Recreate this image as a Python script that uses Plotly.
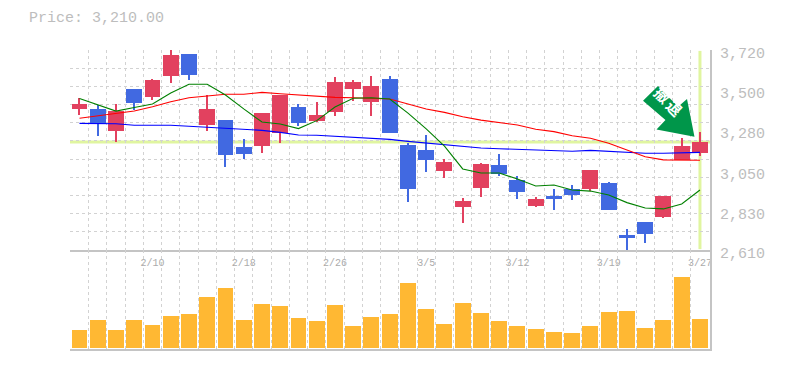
import plotly.graph_objects as go
from plotly.subplots import make_subplots

days = list(range(35))
tick_days = [4, 9, 14, 19, 24, 29, 34]
tick_labels = ["2/10", "2/18", "2/26", "3/5", "3/12", "3/19", "3/27"]
price_ticks = [3720, 3500, 3280, 3050, 2830, 2610]
price_labels = ["3,720", "3,500", "3,280", "3,050", "2,830", "2,610"]

opens = [3393, 3393, 3270, 3504, 3459, 3576, 3698, 3304, 3331, 3182, 3187, 3259,
         3404, 3326, 3376, 3504, 3431, 3559, 3193, 3165, 3048, 2849, 2954, 3082,
         2998, 2854, 2910, 2949, 2949, 2982, 2693, 2765, 2793, 3109, 3148]
closes = [3420, 3311, 3381, 3426, 3553, 3692, 3581, 3393, 3137, 3143, 3370, 3470,
          3315, 3359, 3542, 3542, 3520, 3259, 2949, 3109, 3098, 2882, 3087, 3032,
          2932, 2893, 2893, 2915, 3054, 2832, 2682, 2699, 2910, 3187, 3210]
highs = [3452, 3413, 3420, 3504, 3559, 3720, 3698, 3470, 3331, 3226, 3370, 3470,
         3420, 3431, 3570, 3553, 3576, 3576, 3204, 3248, 3115, 2899, 3093, 3143,
         3021, 2904, 2949, 2971, 3054, 2987, 2727, 2765, 2910, 3232, 3265]
lows = [3359, 3243, 3209, 3387, 3442, 3537, 3553, 3270, 3071, 3115, 3148, 3204,
        3298, 3320, 3354, 3437, 3354, 3259, 2876, 3043, 3010, 2760, 2904, 3021,
        2893, 2849, 2832, 2887, 2937, 2832, 2604, 2649, 2788, 3109, 3132]
ma_short = [3451, 3415, 3381, 3401, 3420, 3481, 3530, 3530, 3470, 3393, 3320, 3309,
            3284, 3328, 3404, 3452, 3455, 3448, 3370, 3282, 3187, 3060, 3037, 3037,
            3004, 2965, 2971, 2943, 2937, 2915, 2873, 2843, 2838, 2865, 2943]
ma_mid = [3341, 3355, 3370, 3381, 3405, 3433, 3455, 3466, 3474, 3474, 3485, 3477,
          3470, 3463, 3457, 3455, 3452, 3448, 3420, 3393, 3374, 3350, 3331, 3319,
          3304, 3280, 3267, 3244, 3230, 3202, 3165, 3128, 3110, 3110, 3108]
ma_long = [3313, 3313, 3311, 3302, 3302, 3302, 3297, 3291, 3283, 3278, 3274, 3263,
           3248, 3247, 3241, 3235, 3230, 3224, 3213, 3204, 3193, 3182, 3176, 3172,
           3169, 3165, 3165, 3158, 3163, 3158, 3152, 3147, 3147, 3150, 3152]
volumes = [1800, 2800, 1800, 2800, 2300, 3200, 3400, 5100, 6000, 2800, 4400, 4200,
           3000, 2700, 4300, 2200, 3100, 3400, 6500, 3900, 2400, 4500, 3500, 2700,
           2200, 1900, 1600, 1500, 2200, 3600, 3700, 2000, 2800, 7100, 2900]
last_price = 3210
last_day = 34

# Arrow outline, in (day, price)
arrow_days = [31.7, 32.8, 33.29, 33.7, 31.62, 32.11, 30.88]
arrow_prices = [3520, 3405, 3448, 3238, 3279, 3331, 3438]

RED = "#E2415F"
BLUE = "#4169E1"
ORANGE = "#FFB833"
GRID = "#D2D2D2"
FRAME = "#C4C4C4"
TEXT = "#BDBDBD"
HILITE = "#E0F5A0"
MONO = "Liberation Mono, DejaVu Sans Mono, monospace"

candle_colors = [RED if c >= o else BLUE for o, c in zip(opens, closes)]
body_base = [min(o, c) for o, c in zip(opens, closes)]
body_size = [abs(c - o) for o, c in zip(opens, closes)]
wick_size = [h - l for h, l in zip(highs, lows)]

fig = make_subplots(rows=2, cols=1, shared_xaxes=False, vertical_spacing=0,
                    row_heights=[200, 99])

for series, color in ((ma_long, "#0000FF"), (ma_mid, "#FF0000"), (ma_short, "#008000")):
    fig.add_trace(go.Scatter(x=days, y=series, mode="lines",
                             line=dict(color=color, width=1.1)), row=1, col=1)
fig.add_trace(go.Bar(x=days, y=wick_size, base=lows, width=0.06,
                     marker=dict(color=candle_colors, line=dict(width=0))), row=1, col=1)
fig.add_trace(go.Bar(x=days, y=body_size, base=body_base, width=0.875,
                     marker=dict(color=candle_colors, line=dict(width=0))), row=1, col=1)
fig.add_trace(go.Bar(x=days, y=volumes, marker=dict(color=ORANGE, line=dict(width=0)),
                     width=0.875), row=2, col=1)

x_range = [-0.52, 34.55]
fig.update_xaxes(range=x_range, zeroline=False, automargin=False)
fig.update_yaxes(automargin=False)
fig.update_layout(
    width=785, height=370, margin=dict(l=70, r=75, t=50, b=21, pad=0),
    paper_bgcolor="white", plot_bgcolor="white", showlegend=False,
    barmode="overlay", bargap=0,
    xaxis=dict(tickmode="array", tickvals=tick_days, ticktext=tick_labels, showgrid=False,
               ticks="", tickfont=dict(family=MONO, size=10, color="#ABABAB"),
               ticklabelstandoff=2,
               showline=True, linecolor=FRAME, linewidth=2,
               minor=dict(tickmode="linear", tick0=-0.5, dtick=1, showgrid=True,
                          griddash="3px,3px", gridcolor=GRID, gridwidth=1, ticks="")),
    xaxis2=dict(showticklabels=False, ticks="", showline=True, linecolor=FRAME, linewidth=2,
                showgrid=True, griddash="3px,3px", gridcolor=GRID, gridwidth=1,
                dtick=1, tick0=-0.5),
    yaxis=dict(side="right", range=[2610, 3720], tickmode="array", tickvals=price_ticks,
               ticktext=price_labels, showgrid=False, zeroline=False, ticks="",
               ticklabelshift=3, tickfont=dict(family=MONO, size=15, color=TEXT),
               showline=True, linecolor=FRAME, linewidth=2, ticklabelstandoff=5,
               minor=dict(tickmode="linear", tick0=2610, dtick=1110 / 11, showgrid=True,
                          griddash="3px,3px", gridcolor=GRID, gridwidth=1, ticks="")),
    yaxis2=dict(side="right", range=[-100, 9800], showgrid=False, zeroline=False,
                showticklabels=False, ticks="", showline=True, linecolor=FRAME, linewidth=2),
)

# Highlights of the latest price and day, beneath the marks
fig.add_shape(type="line", layer="below", xref="x", yref="y", x0=x_range[0], x1=x_range[1],
              y0=last_price, y1=last_price, line=dict(color=HILITE, width=3))
fig.add_shape(type="line", layer="below", xref="x", yref="y", x0=last_day, x1=last_day,
              y0=2615, y1=3715, line=dict(color=HILITE, width=3))

path = "M " + " L ".join(f"{d},{p}" for d, p in zip(arrow_days, arrow_prices)) + " Z"
fig.add_shape(type="path", path=path, xref="x", yref="y", layer="above",
              fillcolor="#00964A", line=dict(width=0))
fig.add_annotation(x=31.93, y=3472, xref="x", yref="y", text="<b>撤</b>", showarrow=False,
                   textangle=45, font=dict(family="Noto Sans CJK JP", size=15, color="white"))
fig.add_annotation(x=32.6, y=3400, xref="x", yref="y", text="<b>退</b>", showarrow=False,
                   textangle=45, font=dict(family="Noto Sans CJK JP", size=15, color="white"))

fig.add_annotation(xref="paper", yref="paper", x=-43 / 640, y=1 + 32 / 299, xanchor="left",
                   yanchor="middle", text="Price: 3,210.00", showarrow=False,
                   font=dict(family=MONO, size=15, color=TEXT))

fig.write_html("out.html", config=dict(displayModeBar=False),
               post_script="document.body.style.margin='0';")
